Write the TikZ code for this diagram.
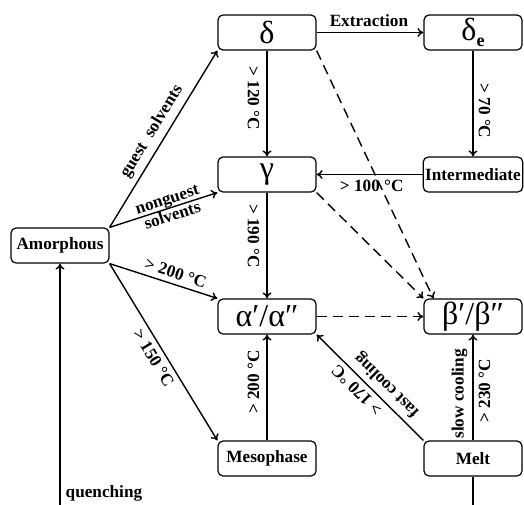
\documentclass[tikz,border=0pt]{standalone}
\usepackage{fontspec}
\setmainfont{Liberation Serif}
\newfontfamily\greekfont{Liberation Serif}
\usepackage{tikz}
\usetikzlibrary{arrows.meta, positioning}

\newcommand{\gk}[1]{{\greekfont\mdseries\fontsize{16}{16}\selectfont #1}}

\begin{document}
\begin{tikzpicture}[
    phase/.style={draw, rounded corners=2.5pt, line width=0.6pt,
                  minimum width=49pt, minimum height=17.5pt, inner sep=1pt,
                  font=\bfseries\fontsize{8.6}{9}\selectfont},
    lbl/.style={font=\bfseries\fontsize{8.6}{9}\selectfont, inner sep=2.5pt},
    ->, >={To[length=3pt, width=4.5pt]}, line width=0.7pt,
    on grid, node distance=71pt and 103pt
  ]
  % nodes
  \node[phase] (delta) {\gk{δ}};
  \node[phase, right=of delta] (deltae) {\gk{δ}\raisebox{-3pt}{\bfseries\fontsize{9}{9}\selectfont e}};
  \node[phase, below=of delta] (gamma) {\gk{γ}};
  \node[phase, below=of deltae] (inter) {Intermediate};
  \node[phase, below=of gamma] (alpha) {\gk{α′/α″}};
  \node[phase, below=of inter] (beta) {\gk{β′/β″}};
  \node[phase, below=of alpha] (meso) {Mesophase};
  \node[phase, below=of beta] (melt) {Melt};
  \node[phase, below left=35.5pt and 103.5pt of gamma] (amorph) {Amorphous};
  \coordinate[below=16pt of melt.south] (qbot);

  \useasboundingbox ([shift={(-133.5pt,16.25pt)}]delta.center) rectangle ++(262pt,-252pt);

  % arcs from the amorphous state
  \draw (amorph.north east) -- node[lbl, sloped, above, pos=0.5] {guest\ \ solvents} (delta.south west);
  \draw (amorph.north east) -- node[lbl, sloped, align=center, pos=0.56, inner sep=0pt,
        font=\bfseries\fontsize{8.6}{8.6}\selectfont] {nonguest\\solvents} (gamma.south west);
  \draw (amorph.south east) -- node[lbl, sloped, above, pos=0.58] {> 200 °C} (alpha.north west);
  \draw (amorph.south east) -- node[lbl, sloped, below, pos=0.5] {> 150 °C} (meso.north west);

  % arcs between crystalline forms
  \draw (delta) -- node[lbl, above, pos=0.49] {Extraction} (deltae);
  \draw (delta) -- node[lbl, sloped, below, pos=0.45, inner sep=3.5pt] {> 120 °C} (gamma);
  \draw (deltae) -- node[lbl, sloped, above, pos=0.57] {> 70 °C} (inter);
  \draw (inter) -- node[lbl, below, pos=0.48] {> 100 °C} (gamma);
  \draw (gamma) -- node[lbl, sloped, below, pos=0.41, inner sep=3.5pt] {> 190 °C} (alpha);
  \draw (meso) -- node[lbl, sloped, above, pos=0.55, inner sep=3.5pt] {> 200 °C} (alpha);
  \draw (melt) -- node[lbl, sloped, above, pos=0.44] {slow cooling}
                  node[lbl, sloped, below, pos=0.47] {> 230 °C} (beta);
  \draw (melt.north west) -- node[lbl, sloped, allow upside down, below, pos=0.43] {fast cooling}
                             node[lbl, sloped, allow upside down, above, pos=0.55] {> 170 °C} (alpha.south east);

  % dashed arcs
  \draw[dash pattern=on 5pt off 3pt] (delta.south east) -- ([xshift=5pt]beta.north west);
  \draw[dash pattern=on 5pt off 3pt] (gamma.south east) -- (beta.north west);
  \draw[dash pattern=on 5pt off 3pt] (alpha) -- (beta);

  % quenching
  \draw (melt) -- (qbot) -| node[lbl, right, pos=0.53] {quenching} (amorph);
\end{tikzpicture}
\end{document}
